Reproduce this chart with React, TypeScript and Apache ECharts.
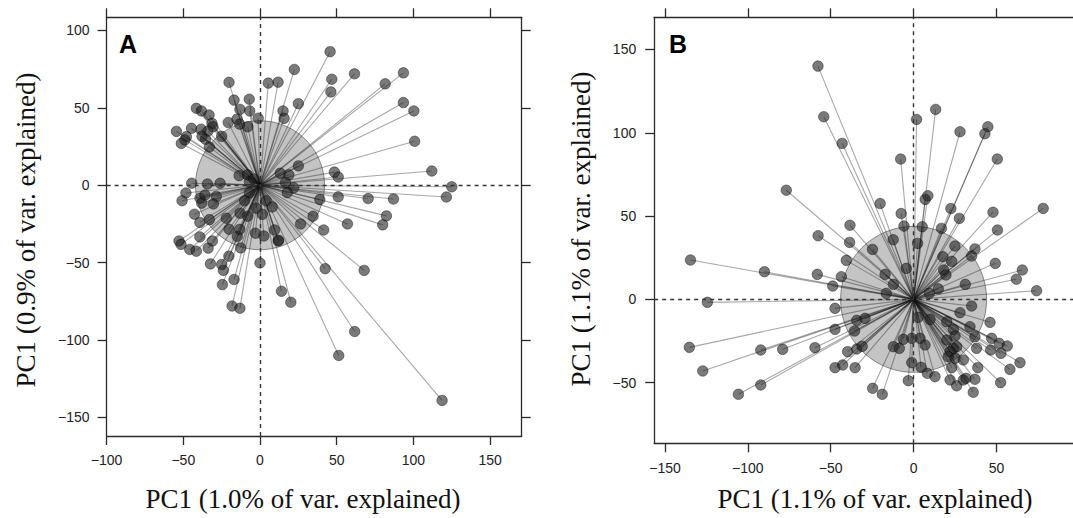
import React, { useEffect, useRef } from 'react';
import * as echarts from 'echarts';

// Panel A: PCA scores (x = PC1 1.0%, y = PC1 0.9%)
const aPoints: [number, number][] = [
  [45.7, 86.3], [22.4, 74.8], [46.8, 68.5], [46.2, 60.3], [61.6, 72], [93.5, 72.6], [81.6, 65.5], [93.5, 53.4],
  [100.3, 48], [100.8, 28.4], [112, 9.2], [125, -1], [121.5, -7.6], [87, -8.9], [70.5, -8.6], [51, -7.5],
  [39, -9.2], [48.5, 8.5], [51, 5.3], [25, 12.5], [82.4, -19.8], [80, -25.6], [57, -25], [41.5, -28.9],
  [34.6, -20], [26.5, -25], [12, -35.5], [9.5, -28.9], [2.5, -32.8], [-3, -31], [1.5, -18.8], [-2.6, -14.8],
  [22, -1.6], [17.8, -4.8], [18.8, 6.7], [13.2, 7.8], [16.6, 1.7], [25, 52.7], [15, 48], [15.7, 43.2],
  [5.4, 66], [11.8, 66.6],
  [-20.2, 66.5], [-16.9, 55], [-7, 55.6], [-13.1, 49], [-6.7, 48], [-1.2, 43.3], [-20.7, 40.5], [-15, 42.7],
  [-13.3, 39.5], [-8, 37.8], [-41.5, 49.7], [-38.2, 48], [-33.2, 45.4], [-31.3, 40], [-30.7, 37.8], [-34, 35],
  [-44.7, 36.8], [-38.4, 36.2], [-54.5, 34.8], [-48, 31.4], [-49, 29.3], [-51.3, 27], [-37.8, 31.6], [-35.5, 29.7],
  [-33, 24.7], [-25, 31.6], [-13.6, 6.2], [-8.1, 6.7], [-6.9, 2.3], [-44.5, 1.3], [-34.3, 0.8], [-26, 1.3],
  [-48.3, -5], [-50.8, -10], [-39.1, -8.4], [-38, -11.6], [-35.9, -6.3], [-28.5, -7.2], [-30.4, -12.1], [-42.7, -18.7],
  [-39.2, -24], [-33, -22.2], [-22, -21.3], [-20.2, -28.4], [-13, -18.1], [-14.8, -33], [-12.6, -40.5], [-52.8, -36],
  [-51.5, -38.2], [-45.8, -41.5], [-41.5, -42.6], [-33.8, -40.6], [-31, -36], [-39.2, -33.4], [-32.3, -50.8], [-25, -51.2],
  [-23.9, -55], [-20.3, -45.8], [-16.9, -60.9], [-24.5, -64.2], [-18.2, -78], [-13.1, -79.5], [0, -50.2], [14, -68.5],
  [20.1, -75.6], [42.5, -53.9], [67.9, -55], [61.7, -94.5], [51.3, -110], [118.7, -139], [12, -36], [-8.1, -20],
  [-6.9, -4.9], [-13.2, -28.5], [4, -10], [-10, -10], [8, -14], [-4, 4],
];

// Panel B: PCA scores (x = PC1 1.1%, y = PC1 1.1%)
const bPoints: [number, number][] = [
  [-57.7, 140], [-54.2, 109.6], [-43.1, 93.6], [-7.8, 84.2], [1.8, 108], [13.3, 114], [28, 100.6], [44.8, 103.6],
  [43, 99.4], [50.5, 84.2], [-76.8, 65.5], [-20.2, 57.5], [-7.5, 51.5], [-5.8, 44], [5.2, 43.6], [7, 60],
  [8.6, 62.2], [22.5, 54.5], [27.6, 48.6], [16.8, 42.6], [47.9, 52.3], [50.6, 41.6], [37, 30.3], [24.9, 32],
  [35, 26], [2.4, 33.6], [-12.3, 35.8], [-24.8, 30], [-38.4, 44.5], [-38.6, 34.2], [-57.6, 38.2], [78.2, 54.6],
  [49.3, 21.6], [65.6, 17.6], [62, 12.1], [74.2, 5.2], [31.2, 9], [17.7, 25.6], [23, 22.8], [18.2, 17.6],
  [19.5, 14.6], [14.9, 6.3], [9.5, 3.6], [-4.4, 18.6], [-17.2, 15], [-12.2, 9], [-16.5, 3.6],
  [-134.6, 23.6], [-90, 16.6], [-124.4, -1.8], [-135.3, -28.8], [-127.2, -43], [-105.7, -57], [-92.2, -51.4], [-92.2, -30.4],
  [-79, -30], [-59.5, -29], [-58.1, 15], [-48.8, 8], [-43.6, 13.6], [-40.6, 23.4], [-47.4, -5.4], [-47.4, -18],
  [-35.6, -19], [-34.3, -12.6], [-29.3, -11.4], [-39.8, -31.4], [-34.3, -29.8], [-31, -28.2], [-47.4, -41], [-42.8, -39.4],
  [-35.3, -41], [-24.7, -53.4], [-18.9, -57],
  [35, -4], [28, -8], [46.1, -13.8], [9.9, -12], [2.8, -10.8], [20, -13.4], [24, -18], [25, -22],
  [20, -24.4], [34, -16.4], [37, -22.4], [47.1, -23.4], [51.7, -26.4], [56.5, -28], [38, -29.4], [46.5, -30.4],
  [52.7, -32.4], [58.1, -42], [64.2, -38], [24, -29.4], [26, -28.4], [22, -31.4], [20.9, -34.4], [25, -35.4],
  [30, -36.4], [38.7, -41], [37, -48], [23, -41], [22, -48.4], [26, -51.9], [30, -48.4], [31.6, -47.4],
  [36, -55.8], [52.5, -50], [4.5, -40.8], [8.3, -44.4], [12.9, -46.4], [-1.1, -38], [-3.2, -48.8], [3.9, -23.4],
  [6.9, -27.4], [-1.1, -23.4], [-6.2, -24], [-12.2, -28.4], [-8.6, -29.4],
];

const aXTicks = [-100, -50, 0, 50, 100, 150];
const aYTicks = [-150, -100, -50, 0, 50, 100];
const bXTicks = [-150, -100, -50, 0, 50];
const bYTicks = [-50, 0, 50, 100, 150];

const aXTitle = 'PC1 (1.0% of var. explained)';
const aYTitle = 'PC1 (0.9% of var. explained)';
const bXTitle = 'PC1 (1.1% of var. explained)';
const bYTitle = 'PC1 (1.1% of var. explained)';

const SANS = '"Liberation Sans", Arial, Helvetica, sans-serif';
const SERIF = '"Liberation Serif", "Times New Roman", serif';
const AXIS_COLOR = '#2a2a2a';

const fmt = (v: number) => (v < 0 ? '\u2212' + Math.abs(v) : String(v));

function axis(
  position: string,
  gridIndex: number,
  min: number,
  max: number,
  ticks: number[],
  showLabels: boolean,
  margin: number
) {
  return {
    type: 'value',
    gridIndex,
    position,
    min,
    max,
    axisLine: { show: true, onZero: false, lineStyle: { color: AXIS_COLOR, width: 1.3 } },
    axisTick: {
      show: true,
      inside: false,
      length: 9,
      customValues: ticks,
      lineStyle: { color: AXIS_COLOR, width: 1.3 },
    },
    axisLabel: {
      show: showLabels,
      customValues: ticks,
      formatter: fmt,
      margin,
      fontSize: 14,
      color: '#222',
      fontFamily: SANS,
    },
    splitLine: { show: false },
  };
}

function panelSeries(points: [number, number][], axisIdx: number, circleSize: number) {
  return [
    {
      type: 'scatter',
      xAxisIndex: axisIdx,
      yAxisIndex: axisIdx,
      data: [[0, 0]],
      symbol: 'circle',
      symbolSize: circleSize,
      silent: true,
      z: 1,
      itemStyle: {
        color: 'rgba(120,120,120,0.55)',
        borderColor: 'rgba(60,60,60,0.7)',
        borderWidth: 1,
      },
      markLine: {
        silent: true,
        symbol: 'none',
        label: { show: false },
        lineStyle: { type: [4, 4], color: '#333', width: 1.4 },
        data: [{ xAxis: 0 }, { yAxis: 0 }],
      },
    },
    {
      type: 'lines',
      coordinateSystem: 'cartesian2d',
      xAxisIndex: axisIdx,
      yAxisIndex: axisIdx,
      silent: true,
      z: 2,
      lineStyle: { color: 'rgba(20,20,20,0.75)', width: 1.1 },
      data: points.map((p) => ({ coords: [[0, 0], p] })),
    },
    {
      type: 'scatter',
      xAxisIndex: axisIdx,
      yAxisIndex: axisIdx,
      data: points,
      symbol: 'circle',
      symbolSize: 10.5,
      silent: true,
      z: 3,
      itemStyle: {
        color: 'rgba(30,30,30,0.74)',
        borderColor: 'rgba(0,0,0,0.5)',
        borderWidth: 1,
      },
    },
  ];
}

export default function App() {
  const ref = useRef<HTMLDivElement>(null);

  useEffect(() => {
    if (!ref.current) return;
    const chart = echarts.init(ref.current, undefined, { renderer: 'svg' });

    const option: any = {
      animation: false,
      backgroundColor: '#ffffff',
      grid: [
        { left: 106.6, top: 17.3, width: 415.1, height: 418.7, outerBoundsMode: 'none', containLabel: false },
        { left: 654.2, top: 17.3, width: 426.8, height: 426, outerBoundsMode: 'none', containLabel: false },
      ],
      xAxis: [
        axis('bottom', 0, -100, 170.6, aXTicks, true, 17),
        axis('top', 0, -100, 170.6, aXTicks, false, 8),
        axis('bottom', 1, -156.5, 101, bXTicks, true, 18),
        axis('top', 1, -156.5, 101, bXTicks, false, 8),
      ],
      yAxis: [
        axis('left', 0, -162, 108.5, aYTicks, true, 17),
        axis('right', 0, -162, 108.5, aYTicks, false, 8),
        axis('left', 1, -86.4, 169.3, bYTicks, true, 18),
        axis('right', 1, -86.4, 169.3, bYTicks, false, 8),
      ],
      series: [...panelSeries(aPoints, 0, 129), ...panelSeries(bPoints, 2, 146)],
      graphic: [
        {
          type: 'text',
          x: 119,
          y: 44,
          silent: true,
          style: { text: 'A', fontSize: 25, fontWeight: 'bold', fontFamily: SANS, fill: '#000', align: 'left', verticalAlign: 'middle' },
        },
        {
          type: 'text',
          x: 669,
          y: 44,
          silent: true,
          style: { text: 'B', fontSize: 25, fontWeight: 'bold', fontFamily: SANS, fill: '#000', align: 'left', verticalAlign: 'middle' },
        },
        {
          type: 'text',
          x: 303,
          y: 499,
          silent: true,
          style: { text: aXTitle, fontSize: 27, fontFamily: SERIF, fill: '#111', align: 'center', verticalAlign: 'middle' },
        },
        {
          type: 'text',
          x: 26,
          y: 230,
          rotation: Math.PI / 2,
          silent: true,
          style: { text: aYTitle, fontSize: 27, fontFamily: SERIF, fill: '#111', align: 'center', verticalAlign: 'middle' },
        },
        {
          type: 'text',
          x: 875,
          y: 499,
          silent: true,
          style: { text: bXTitle, fontSize: 27, fontFamily: SERIF, fill: '#111', align: 'center', verticalAlign: 'middle' },
        },
        {
          type: 'text',
          x: 581,
          y: 229,
          rotation: Math.PI / 2,
          silent: true,
          style: { text: bYTitle, fontSize: 27, fontFamily: SERIF, fill: '#111', align: 'center', verticalAlign: 'middle' },
        },
      ],
    };

    chart.setOption(option);
    return () => {
      chart.dispose();
    };
  }, []);

  return (
    <div
      ref={ref}
      style={{ position: 'fixed', left: 0, top: 0, width: 1073, height: 518, background: '#fff' }}
    />
  );
}
